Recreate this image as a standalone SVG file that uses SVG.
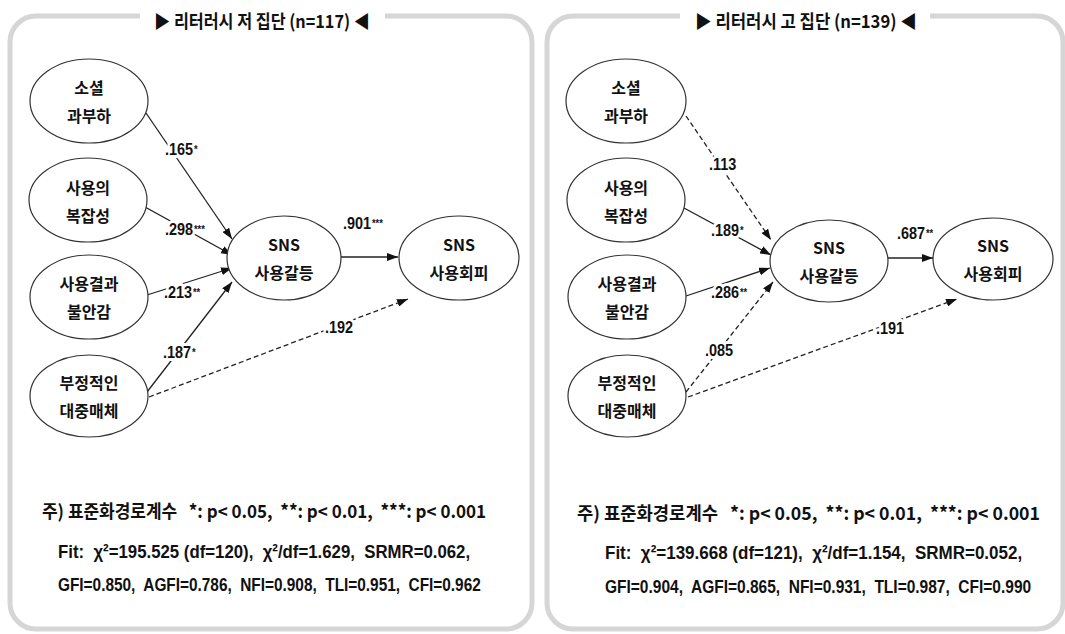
<svg xmlns="http://www.w3.org/2000/svg" width="1065" height="634" viewBox="0 0 1065 634">
<style>
.panel{fill:#fff;stroke:#d6d6d6;stroke-width:5}
.title{font-family:"Noto Sans CJK KR","Liberation Sans",sans-serif;font-weight:bold;font-size:18px;fill:#111;text-anchor:middle}
.node ellipse{fill:#fff;stroke:#333;stroke-width:1.2}
.node text{font-family:"Noto Sans CJK KR","Liberation Sans",sans-serif;font-weight:bold;font-size:16px;fill:#111;text-anchor:middle}
.edge{stroke:#222;stroke-width:1.3;fill:none;marker-end:url(#ah)}
.dash{stroke-dasharray:5 3}
.lbl text{font-family:"Liberation Sans",Arial,sans-serif;font-weight:bold;font-size:17px;fill:#111;stroke:#fff;stroke-width:6px;paint-order:stroke;stroke-linejoin:round}
.lbl text.st{font-size:11px;stroke-width:3px}
.note{font-family:"Noto Sans CJK KR","Liberation Sans",sans-serif;font-weight:bold;font-size:18px;fill:#111}
.fit{font-family:"Liberation Sans","Noto Sans CJK KR",sans-serif;font-weight:bold;font-size:19px;fill:#111}
</style>
<defs>
<marker id="ah" markerUnits="userSpaceOnUse" markerWidth="11" markerHeight="8" refX="11" refY="4" orient="auto">
<path d="M0,0 L11,4 L0,8 z" fill="#111"/>
</marker>
</defs>

<g id="panel-low">
<rect class="panel" x="10" y="16" width="522" height="613" rx="26"/>
<rect x="140" y="5" width="245" height="24" fill="#fff"/>
<text class="title" x="262" y="28" textLength="216" lengthAdjust="spacingAndGlyphs">▶ 리터러시 저 집단 (n=117) ◀</text>
</g>
<g id="panel-high">
<rect class="panel" x="547" y="16" width="516" height="613" rx="26"/>
<rect x="680" y="5" width="250" height="24" fill="#fff"/>
<text class="title" x="806" y="28" textLength="222" lengthAdjust="spacingAndGlyphs">▶ 리터러시 고 집단 (n=139) ◀</text>
</g>

<g id="connectors">
<line class="edge" x1="146" y1="113" x2="232" y2="239"/>
<line class="edge" x1="145" y1="207" x2="232" y2="255"/>
<line class="edge" x1="147" y1="295" x2="232" y2="268"/>
<line class="edge" x1="147" y1="392" x2="232" y2="282"/>
<line class="edge dash" x1="149" y1="397" x2="408" y2="299"/>
<line class="edge" x1="341" y1="257" x2="398" y2="257"/>

<line class="edge dash" x1="686" y1="116" x2="771" y2="240"/>
<line class="edge" x1="684" y1="208" x2="771" y2="255"/>
<line class="edge" x1="686" y1="296" x2="770" y2="268"/>
<line class="edge dash" x1="686" y1="392" x2="773" y2="282"/>
<line class="edge dash" x1="688" y1="397" x2="957" y2="299"/>
<line class="edge" x1="888" y1="258" x2="933" y2="258"/>

<g class="lbl" transform="translate(165 155) scale(0.85 1)"><text x="0" y="0">.165</text><text class="st" x="34" y="-2">*</text></g>
<g class="lbl" transform="translate(165 235) scale(0.85 1)"><text x="0" y="0">.298</text><text class="st" x="34" y="-2">***</text></g>
<g class="lbl" transform="translate(164 298) scale(0.85 1)"><text x="0" y="0">.213</text><text class="st" x="34" y="-2">**</text></g>
<g class="lbl" transform="translate(163 358) scale(0.85 1)"><text x="0" y="0">.187</text><text class="st" x="34" y="-2">*</text></g>
<g class="lbl" transform="translate(325 333) scale(0.85 1)"><text x="0" y="0">.192</text></g>
<g class="lbl" transform="translate(343 229) scale(0.85 1)"><text x="0" y="0">.901</text><text class="st" x="34" y="-2">***</text></g>

<g class="lbl" transform="translate(709 170) scale(0.85 1)"><text x="0" y="0">.113</text></g>
<g class="lbl" transform="translate(711 236) scale(0.85 1)"><text x="0" y="0">.189</text><text class="st" x="34" y="-2">*</text></g>
<g class="lbl" transform="translate(711 298) scale(0.85 1)"><text x="0" y="0">.286</text><text class="st" x="34" y="-2">**</text></g>
<g class="lbl" transform="translate(705 356) scale(0.85 1)"><text x="0" y="0">.085</text></g>
<g class="lbl" transform="translate(876 334) scale(0.85 1)"><text x="0" y="0">.191</text></g>
<g class="lbl" transform="translate(897 239) scale(0.85 1)"><text x="0" y="0">.687</text><text class="st" x="34" y="-2">**</text></g>
</g>

<g id="n-low-overload" class="node"><ellipse cx="89" cy="101" rx="59" ry="42"/><text x="89" y="94">소셜</text><text x="89" y="122">과부하</text></g>
<g id="n-low-complex" class="node"><ellipse cx="88" cy="200" rx="59" ry="42"/><text x="88" y="194">사용의</text><text x="88" y="222">복잡성</text></g>
<g id="n-low-anxiety" class="node"><ellipse cx="89" cy="297" rx="59" ry="42"/><text x="89" y="290">사용결과</text><text x="89" y="318">불안감</text></g>
<g id="n-low-media" class="node"><ellipse cx="89" cy="396" rx="59" ry="41"/><text x="89" y="389">부정적인</text><text x="89" y="417">대중매체</text></g>
<g id="n-low-conflict" class="node"><ellipse cx="284" cy="258" rx="57" ry="42"/><text x="284" y="251">SNS</text><text x="284" y="279">사용갈등</text></g>
<g id="n-low-avoid" class="node"><ellipse cx="459" cy="258" rx="60" ry="42"/><text x="459" y="251">SNS</text><text x="459" y="279">사용회피</text></g>

<g id="n-high-overload" class="node"><ellipse cx="626" cy="101" rx="60" ry="42"/><text x="626" y="94">소셜</text><text x="626" y="122">과부하</text></g>
<g id="n-high-complex" class="node"><ellipse cx="626" cy="200" rx="59" ry="42"/><text x="626" y="194">사용의</text><text x="626" y="222">복잡성</text></g>
<g id="n-high-anxiety" class="node"><ellipse cx="627" cy="297" rx="59" ry="42"/><text x="627" y="290">사용결과</text><text x="627" y="318">불안감</text></g>
<g id="n-high-media" class="node"><ellipse cx="627" cy="396" rx="59" ry="41"/><text x="627" y="389">부정적인</text><text x="627" y="417">대중매체</text></g>
<g id="n-high-conflict" class="node"><ellipse cx="829" cy="261" rx="59" ry="41"/><text x="829" y="254">SNS</text><text x="829" y="282">사용갈등</text></g>
<g id="n-high-avoid" class="node"><ellipse cx="993" cy="259" rx="60" ry="41"/><text x="993" y="252">SNS</text><text x="993" y="280">사용회피</text></g>

<g id="notes-low">
<text class="note" x="42" y="518" textLength="444" lengthAdjust="spacingAndGlyphs" xml:space="preserve">주) 표준화경로계수   *: p&lt; 0.05,  **: p&lt; 0.01,  ***: p&lt; 0.001</text>
<text class="fit" transform="translate(58 558) scale(0.884 1)" xml:space="preserve">Fit:  χ²=195.525 (df=120),  χ²/df=1.629,  SRMR=0.062,</text>
<text class="fit" transform="translate(58 591) scale(0.81 1)" xml:space="preserve">GFI=0.850,  AGFI=0.786,  NFI=0.908,  TLI=0.951,  CFI=0.962</text>
</g>
<g id="notes-high">
<text class="note" x="577" y="520" textLength="463" lengthAdjust="spacingAndGlyphs" xml:space="preserve">주) 표준화경로계수   *: p&lt; 0.05,  **: p&lt; 0.01,  ***: p&lt; 0.001</text>
<text class="fit" transform="translate(605 559) scale(0.895 1)" xml:space="preserve">Fit:  χ²=139.668 (df=121),  χ²/df=1.154,  SRMR=0.052,</text>
<text class="fit" transform="translate(605 593) scale(0.816 1)" xml:space="preserve">GFI=0.904,  AGFI=0.865,  NFI=0.931,  TLI=0.987,  CFI=0.990</text>
</g>
</svg>
